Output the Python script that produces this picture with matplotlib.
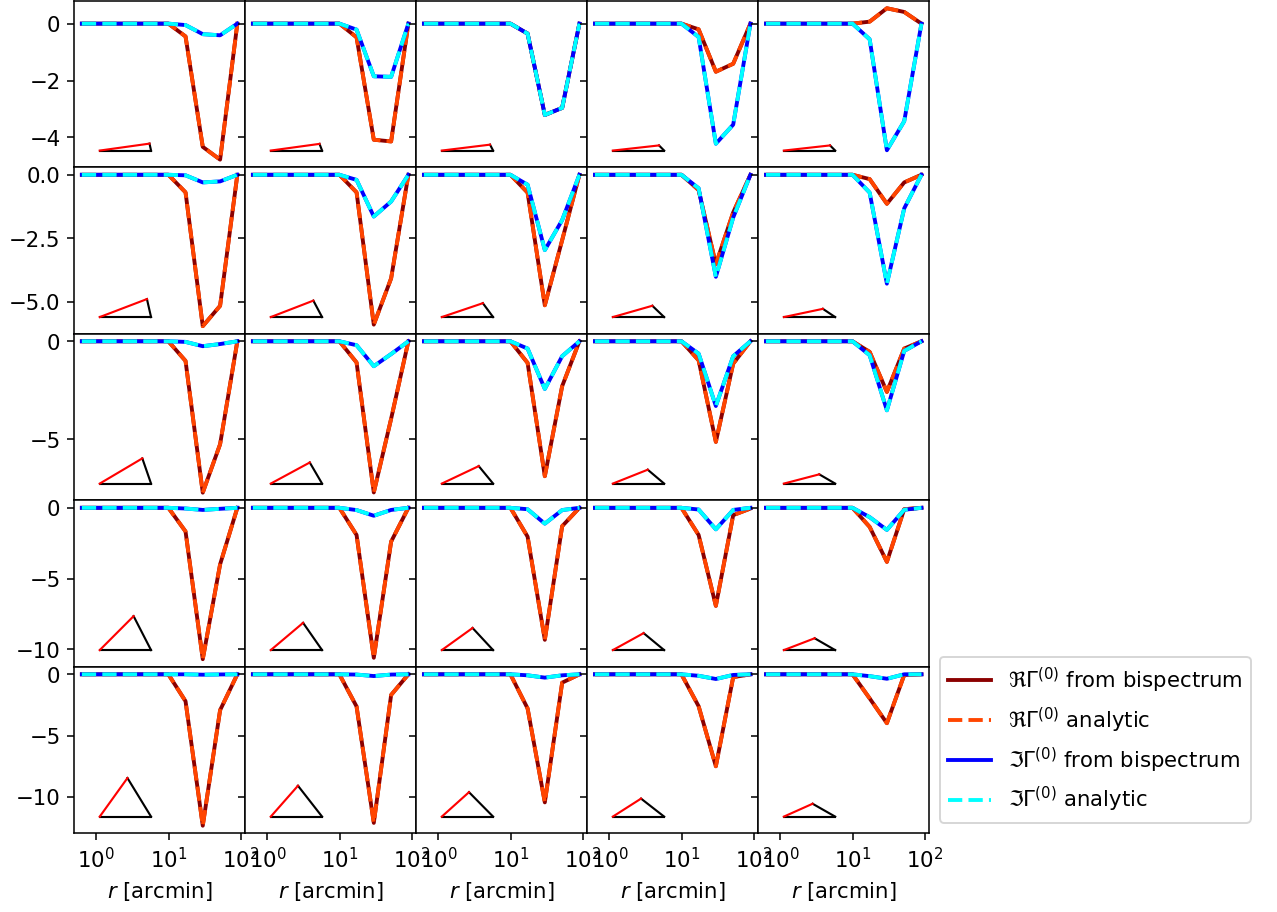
"""Gamma^(0) of the third-order shear correlation: bispectrum integration vs. analytic result."""

import matplotlib.pyplot as plt
from matplotlib.ticker import NullLocator


# radial bins [arcmin]
R_ARCMIN = [0.63, 1.09, 1.9, 3.3, 5.7, 9.9, 17.1, 29.6, 51.4, 89.0]

# real / imaginary part per row of triangle configurations, one list per column
RE_ROW0 = [
    [0, 0, 0, 0, 0, 0, -0.45, -4.33, -4.78, 0],
    [0, 0, 0, 0, 0, 0, -0.48, -4.08, -4.14, 0],
    [0, 0, 0, 0, 0, 0, -0.35, -3.21, -2.96, 0],
    [0, 0, 0, 0, 0, 0, -0.20, -1.69, -1.41, 0],
    [0, 0, 0, 0, 0, 0, 0.07, 0.54, 0.41, 0],
]
IM_ROW0 = [
    [0, 0, 0, 0, 0, 0, -0.05, -0.37, -0.41, 0],
    [0, 0, 0, 0, 0, 0, -0.21, -1.85, -1.87, 0],
    [0, 0, 0, 0, 0, 0, -0.35, -3.21, -2.96, 0],
    [0, 0, 0, 0, 0, 0, -0.47, -4.22, -3.55, 0],
    [0, 0, 0, 0, 0, 0, -0.55, -4.45, -3.43, 0],
]
RE_ROW1 = [
    [0, 0, 0, 0, 0, 0, -0.69, -5.95, -5.15, 0],
    [0, 0, 0, 0, 0, 0, -0.69, -5.89, -4.07, 0],
    [0, 0, 0, 0, 0, 0, -0.70, -5.13, -2.57, 0],
    [0, 0, 0, 0, 0, 0, -0.60, -3.52, -1.48, 0],
    [0, 0, 0, 0, 0, 0, -0.17, -1.14, -0.30, 0],
]
IM_ROW1 = [
    [0, 0, 0, 0, 0, 0, -0.02, -0.30, -0.26, 0],
    [0, 0, 0, 0, 0, 0, -0.20, -1.64, -1.05, 0],
    [0, 0, 0, 0, 0, 0, -0.39, -2.96, -1.78, 0],
    [0, 0, 0, 0, 0, 0, -0.53, -4.01, -1.68, 0],
    [0, 0, 0, 0, 0, 0, -0.70, -4.28, -1.32, 0],
]
RE_ROW2 = [
    [0, 0, 0, 0, 0, 0, -1.00, -7.72, -5.25, 0],
    [0, 0, 0, 0, 0, 0, -1.08, -7.71, -3.95, 0],
    [0, 0, 0, 0, 0, 0, -1.10, -6.88, -2.29, 0],
    [0, 0, 0, 0, 0, 0, -0.97, -5.13, -1.14, 0],
    [0, 0, 0, 0, 0, 0, -0.54, -2.58, -0.37, 0],
]
IM_ROW2 = [
    [0, 0, 0, 0, 0, 0, -0.03, -0.25, -0.14, 0],
    [0, 0, 0, 0, 0, 0, -0.20, -1.27, -0.65, 0],
    [0, 0, 0, 0, 0, 0, -0.37, -2.43, -0.76, 0],
    [0, 0, 0, 0, 0, 0, -0.63, -3.30, -0.76, 0],
    [0, 0, 0, 0, 0, 0, -0.71, -3.52, -0.49, 0],
]
RE_ROW3 = [
    [0, 0, 0, 0, 0, 0, -1.67, -10.70, -4.00, 0],
    [0, 0, 0, 0, 0, 0, -1.92, -10.60, -2.39, 0],
    [0, 0, 0, 0, 0, 0, -2.04, -9.33, -1.30, 0],
    [0, 0, 0, 0, 0, 0, -1.92, -6.93, -0.52, -0.05],
    [0, 0, 0, 0, 0, 0, -1.35, -3.82, -0.10, 0],
]
IM_ROW3 = [
    [0, 0, 0, 0, 0, 0, -0.05, -0.15, -0.07, 0],
    [0, 0, 0, 0, 0, 0, -0.16, -0.56, -0.15, 0],
    [0, 0, 0, 0, 0, 0, -0.10, -1.12, -0.16, 0],
    [0, 0, 0, 0, 0, 0, -0.12, -1.52, -0.15, 0],
    [0, 0, 0, 0, 0, 0, -0.66, -1.56, -0.14, 0],
]
RE_ROW4 = [
    [0, 0, 0, 0, 0, 0, -2.19, -12.33, -2.92, 0],
    [0, 0, 0, 0, 0, 0, -2.62, -12.10, -1.68, 0],
    [0, 0, 0, 0, 0, 0, -2.78, -10.43, -0.68, 0],
    [0, 0, 0, 0, 0, 0, -2.60, -7.49, -0.23, 0],
    [0, 0, 0, 0, 0, 0, -1.96, -3.98, -0.05, 0],
]
IM_ROW4 = [
    [0, 0, 0, 0, 0, 0, 0.00, -0.03, -0.01, 0],
    [0, 0, 0, 0, 0, 0, -0.02, -0.14, -0.02, 0],
    [0, 0, 0, 0, 0, 0, -0.08, -0.27, -0.08, 0],
    [0, 0, 0, 0, 0, 0, -0.12, -0.38, -0.05, 0],
    [0, 0, 0, 0, 0, 0, -0.15, -0.36, 0.00, 0],
]

RE_ROWS = [RE_ROW0, RE_ROW1, RE_ROW2, RE_ROW3, RE_ROW4]
IM_ROWS = [IM_ROW0, IM_ROW1, IM_ROW2, IM_ROW3, IM_ROW4]

# third vertex of the sketched triangle, in units of the base side
APEX_X = [
    [0.97, 0.95, 0.94, 0.90, 0.90],
    [0.92, 0.83, 0.80, 0.77, 0.76],
    [0.83, 0.76, 0.72, 0.68, 0.69],
    [0.66, 0.63, 0.60, 0.60, 0.60],
    [0.54, 0.53, 0.53, 0.55, 0.56],
]
APEX_Y = [
    [0.135, 0.13, 0.115, 0.10, 0.10],
    [0.35, 0.32, 0.27, 0.22, 0.16],
    [0.49, 0.41, 0.34, 0.27, 0.18],
    [0.66, 0.53, 0.43, 0.33, 0.23],
    [0.75, 0.60, 0.475, 0.35, 0.25],
]

YTICKS = [[-4, -2, 0], [-5.0, -2.5, 0.0], [-5, 0], [-10, -5, 0], [-10, -5, 0]]

LABELS = [
    r"$\Re\Gamma^{(0)}$ from bispectrum",
    r"$\Re\Gamma^{(0)}$ analytic",
    r"$\Im\Gamma^{(0)}$ from bispectrum",
    r"$\Im\Gamma^{(0)}$ analytic",
]


def draw_triangle(ax, apex_x, apex_y):
    x0, base, y0 = 0.15, 0.30, 0.10
    xa = x0 + base * apex_x
    ya = y0 + base * apex_y * 1.03
    ax.plot([x0, x0 + base], [y0, y0], color="black", lw=1.1, transform=ax.transAxes)
    ax.plot([xa, x0 + base], [ya, y0], color="black", lw=1.1, transform=ax.transAxes)
    ax.plot([x0, xa], [y0, ya], color="red", lw=1.1, transform=ax.transAxes)


plt.rcParams["font.size"] = 11

dpi = 139
fig, axes = plt.subplots(5, 5, figsize=(1277.3 / dpi, 912.3 / dpi), dpi=dpi,
                         sharex=True, sharey="row")
fig.subplots_adjust(left=0.058, right=0.7275, bottom=0.0863, top=0.9989,
                    wspace=0, hspace=0)

for i in range(5):
    for j in range(5):
        ax = axes[i, j]
        re = RE_ROWS[i][j]
        im = IM_ROWS[i][j]
        ax.plot(R_ARCMIN, re, color="darkred", lw=2, label=LABELS[0])
        ax.plot(R_ARCMIN, re, color="orangered", ls="--", lw=2, label=LABELS[1])
        ax.plot(R_ARCMIN, im, color="blue", lw=2, label=LABELS[2])
        ax.plot(R_ARCMIN, im, color="cyan", ls="--", lw=2, label=LABELS[3])
        draw_triangle(ax, APEX_X[i][j], APEX_Y[i][j])

        ax.set_xscale("log")
        ax.xaxis.set_minor_locator(NullLocator())
        if i < 4:
            ax.tick_params(axis="x", bottom=False)
        else:
            ax.set_xlabel(r"$r$ [arcmin]")
    axes[i, 0].set_yticks(YTICKS[i])

axes[4, 4].legend(loc="lower left", bbox_to_anchor=(1, 0))

fig.savefig("out.png", dpi=dpi)
